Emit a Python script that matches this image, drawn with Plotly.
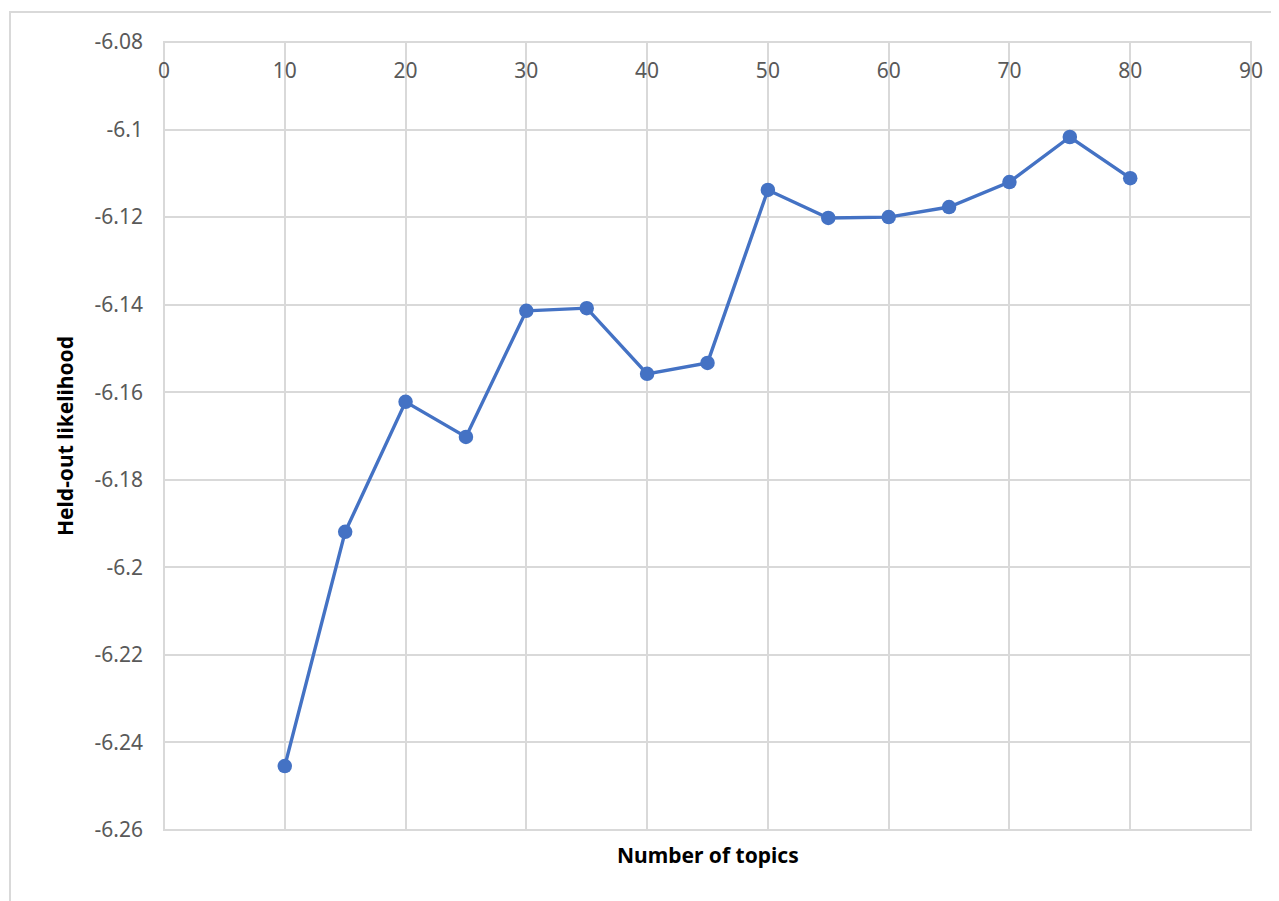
import plotly.graph_objects as go

# Data
topics = [10, 15, 20, 25, 30, 35, 40, 45, 50, 55, 60, 65, 70, 75, 80]
likelihood = [-6.2454, -6.1919, -6.1622, -6.1702, -6.1414, -6.1408, -6.1558,
              -6.1533, -6.1138, -6.1202, -6.1200, -6.1177, -6.1120, -6.1017, -6.1111]

x_tickvals = [0, 10, 20, 30, 40, 50, 60, 70, 80, 90]
x_ticktext = ["0", "10", "20", "30", "40", "50", "60", "70", "80", "90"]
y_tickvals = [-6.08, -6.10, -6.12, -6.14, -6.16, -6.18, -6.20, -6.22, -6.24, -6.26]
y_ticktext = ["-6.08", "-6.1", "-6.12", "-6.14", "-6.16", "-6.18", "-6.2", "-6.22", "-6.24", "-6.26"]

OFF = 8  # page body margin
W, H = 1279 - OFF, 901 - OFF
L, R, T, B = 164 - OFF, 28, 42 - OFF, 71
pw, ph = W - L - R, H - T - B

FONT = "Noto Sans, Open Sans, sans-serif"
GRID = "#d9d9d9"

fig = go.Figure()
fig.add_trace(go.Scatter(
    x=topics, y=likelihood, mode="lines+markers",
    line=dict(color="#4472C4", width=3.4),
    marker=dict(color="#4472C4", size=14.5),
    cliponaxis=False,
))

fig.update_layout(
    width=W, height=H,
    margin=dict(l=L, r=R, t=T, b=B, autoexpand=False),
    paper_bgcolor="white", plot_bgcolor="white",
    showlegend=False,
    font=dict(family=FONT, size=21, color="#595959"),
    xaxis=dict(
        range=[0, 90], side="top", tickmode="array",
        tickvals=x_tickvals, ticktext=x_ticktext,
        ticklabelposition="inside", ticklabelstandoff=18,
        ticklabeloverflow="allow",
        showgrid=True, gridcolor=GRID, gridwidth=2,
        zeroline=False, showline=False, ticks="",
        tickfont=dict(size=21, color="#595959"),
        fixedrange=True,
    ),
    yaxis=dict(
        range=[-6.26, -6.0799999], tickmode="array",
        tickvals=y_tickvals, ticktext=y_ticktext,
        showgrid=True, gridcolor=GRID, gridwidth=2,
        zeroline=False, showline=False, ticks="",
        ticklabelstandoff=20,
        tickfont=dict(size=21, color="#595959"),
        fixedrange=True,
    ),
    annotations=[
        dict(text="<b>Number of topics</b>", xref="paper", yref="paper",
             x=0.5, y=(0 - 25) / ph, xanchor="center", yanchor="middle",
             showarrow=False, font=dict(family=FONT, size=21, color="#000000")),
        dict(text="<b>Held-out likelihood</b>", xref="paper", yref="paper",
             x=(65 - 164) / pw, y=(830 - 436) / ph, xanchor="center", yanchor="middle",
             textangle=-90, showarrow=False,
             font=dict(family=FONT, size=21, color="#000000")),
    ],
    shapes=[
        dict(type="rect", xref="paper", yref="paper", x0=0, x1=1, y0=0, y1=1,
             line=dict(color=GRID, width=2), layer="below"),
        dict(type="rect", xref="paper", yref="paper",
             x0=(10 - 164) / pw, x1=(1300 - 164) / pw,
             y0=(830 - 920) / ph, y1=(830 - 12) / ph,
             line=dict(color=GRID, width=2), layer="below"),
    ],
)

fig.write_html("out.html")
